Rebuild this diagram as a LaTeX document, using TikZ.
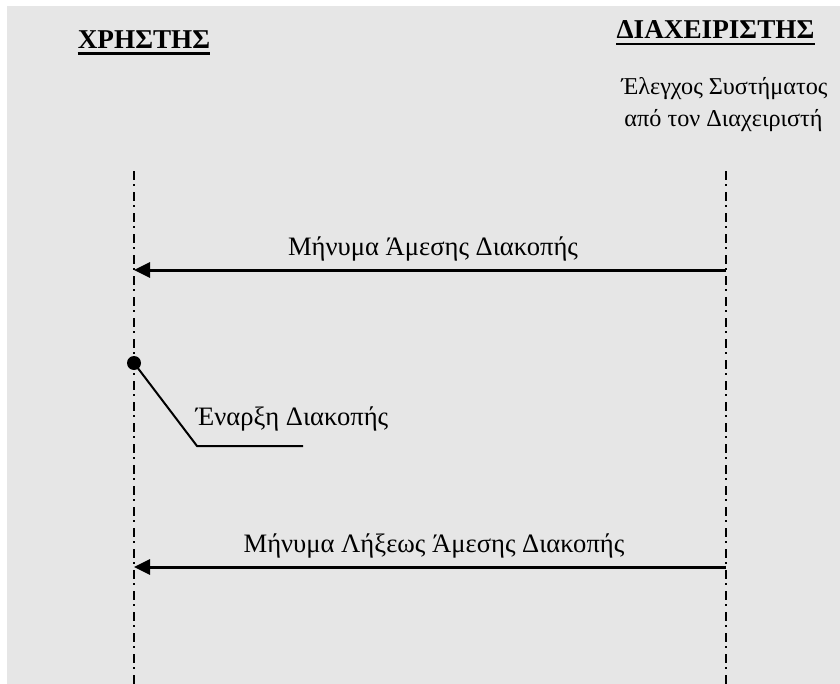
\documentclass[tikz,border=0pt]{standalone}
\usepackage{fontspec}
\setmainfont{Liberation Serif}
\usetikzlibrary{arrows.meta}
\definecolor{bg}{HTML}{E6E6E6}
\begin{document}
\begin{tikzpicture}[x=1bp,y=-1bp,
  lbl/.style={inner sep=0pt, anchor=base, font=\fontsize{26.6bp}{32bp}\selectfont},
  small/.style={inner sep=0pt, anchor=base, font=\fontsize{24.2bp}{30bp}\selectfont},
  hdr/.style={inner sep=0pt, anchor=base, font=\fontsize{27.2bp}{32bp}\selectfont\bfseries},
  uline/.style={line width=2.6bp},
  lifeline/.style={line width=2bp, dash pattern=on 9bp off 4bp on 2bp off 6bp},
  msg/.style={line width=3bp, -{Triangle[length=16bp,width=15bp]}},
  callout/.style={line width=2bp},
]
\useasboundingbox (0,0) rectangle (840,684);
\fill[white] (0,0) rectangle (840,684);
\fill[bg] (7,6) rectangle (840,684);
% headers
\node[hdr] (user) at (144,49) {ΧΡΗΣΤΗΣ};
\draw[uline] ([yshift=-4.5bp]user.base west) -- ([yshift=-4.5bp]user.base east);
\node[hdr] (admin) at (715.5,39) {ΔΙΑΧΕΙΡΙΣΤΗΣ};
\draw[uline] ([yshift=-5bp]admin.base west) -- ([yshift=-5bp]admin.base east);
\node[small] (check1) at (724.5,95) {Έλεγχος Συστήματος};
\node[small] (check2) at (723.5,127) {από τον Διαχειριστή};
% lifelines
\coordinate (uTop) at (134,171);
\coordinate (uBot) at (134,690);
\coordinate (aTop) at (726,171);
\coordinate (aBot) at (726,690);
\draw[lifeline] (uTop) -- (uBot);
\draw[lifeline] (aTop) -- (aBot);
% message 1
\coordinate (m1s) at (726,270);
\coordinate (m1e) at (134,270);
\draw[msg] (m1s) -- (m1e);
\node[lbl] (t1) at (433,255) {Μήνυμα Άμεσης Διακοπής};
% start of interruption
\node[circle, fill=black, inner sep=0pt, minimum size=14bp] (dot) at (134,363) {};
\coordinate (bend) at (197,446);
\coordinate (cend) at (303,446);
\draw[callout] (dot.center) -- (bend) -- (cend);
\node[lbl] (t2) at (292,425) {Έναρξη Διακοπής};
% message 2
\coordinate (m2s) at (726,567);
\coordinate (m2e) at (134,567);
\draw[msg] (m2s) -- (m2e);
\node[lbl] (t3) at (434,552) {Μήνυμα Λήξεως Άμεσης Διακοπής};
\end{tikzpicture}
\end{document}
